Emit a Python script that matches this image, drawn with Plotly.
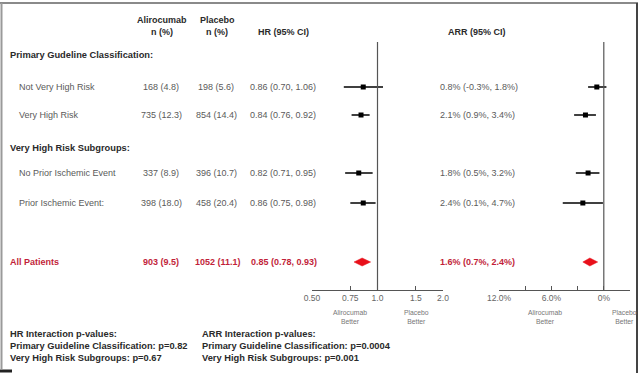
import plotly.graph_objects as go

# ---------------- data ----------------
row_labels = ["Not Very High Risk", "Very High Risk", "No Prior Ischemic Event", "Prior Ischemic Event:"]
aliro_text = ["168 (4.8)", "735 (12.3)", "337 (8.9)", "398 (18.0)"]
placebo_text = ["198 (5.6)", "854 (14.4)", "396 (10.7)", "458 (20.4)"]
hr_est = [0.86, 0.84, 0.82, 0.86]
hr_lo = [0.70, 0.76, 0.71, 0.75]
hr_hi = [1.06, 0.92, 0.95, 0.98]
arr_est = [0.8, 2.1, 1.8, 2.4]
arr_lo = [-0.3, 0.9, 0.5, 0.1]
arr_hi = [1.8, 3.4, 3.2, 4.7]

all_label = "All Patients"
all_aliro = "903 (9.5)"
all_placebo = "1052 (11.1)"
all_hr = [0.85, 0.78, 0.93]     # est, lo, hi
all_arr = [1.6, 0.7, 2.4]

hr_ticks = [0.5, 0.75, 1.0, 1.5, 2.0]
hr_ticktext = ["0.50", "0.75", "1.0", "1.5", "2.0"]
arr_ticks = [12, 9, 6, 3, 0, -3]
arr_ticktext = ["12.0%", "", "6.0%", "", "0%", ""]

section_labels = ["Primary Gudeline Classification:", "Very High Risk Subgroups:"]
footnote_hr = ["HR Interaction p-values:", "Primary Guideline Classification: p=0.82", "Very High Risk Subgroups: p=0.67"]
footnote_arr = ["ARR Interaction p-values:", "Primary Guideline Classification: p=0.0004", "Very High Risk Subgroups: p=0.001"]

# ---------------- layout helpers (pixel positions) ----------------
W, H = 640, 373
row_y = [87, 115, 173, 203]
all_y = 262
section_y = [55, 148]
FONT = "Liberation Sans, Arial, sans-serif"
GRAY = "#5a5a5a"
DARK = "#2a2a2a"
RED_TXT = "#c21f3a"
RED = "#e8101a"


def px(x):
    return x / W


def py(y):
    return 1 - y / H


annotations = []


def txt(x, y, s, size=9, color=GRAY, bold=False, anchor="left"):
    annotations.append(dict(
        x=px(x), y=py(y), xref="paper", yref="paper", text=(f"<b>{s}</b>" if bold else s),
        showarrow=False, xanchor=anchor, yanchor="middle",
        font=dict(family=FONT, size=size, color=color)))


# headers
txt(162, 20, "Alirocumab", bold=True, color=DARK, anchor="center")
txt(162, 32, "n (%)", bold=True, color=DARK, anchor="center")
txt(217, 20, "Placebo", bold=True, color=DARK, anchor="center")
txt(217, 32, "n (%)", bold=True, color=DARK, anchor="center")
txt(283, 32, "HR (95% CI)", bold=True, color=DARK, anchor="center")
txt(477, 32, "ARR (95% CI)", bold=True, color=DARK, anchor="center")

for s, y in zip(section_labels, section_y):
    txt(8, y, s, bold=True, color=DARK, size=9.3)

for i, y in enumerate(row_y):
    txt(17, y, row_labels[i])
    txt(161, y, aliro_text[i], anchor="center")
    txt(216, y, placebo_text[i], anchor="center")
    txt(248, y, f"{hr_est[i]:.2f} ({hr_lo[i]:.2f}, {hr_hi[i]:.2f})")
    txt(438, y, f"{arr_est[i]:.1f}% ({arr_lo[i]:.1f}%, {arr_hi[i]:.1f}%)")

txt(8, all_y, all_label, bold=True, color=RED_TXT)
txt(161, all_y, all_aliro, bold=True, color=RED_TXT, anchor="center")
txt(218, all_y, all_placebo, bold=True, color=RED_TXT, anchor="center")
txt(249, all_y, f"{all_hr[0]:.2f} ({all_hr[1]:.2f}, {all_hr[2]:.2f})", bold=True, color=RED_TXT)
txt(438, all_y, f"{all_arr[0]:.1f}% ({all_arr[1]:.1f}%, {all_arr[2]:.1f}%)", bold=True, color=RED_TXT)

# better labels
for x, s in [(350, "Alirocumab<br>Better"), (416, "Placebo<br>Better"),
             (545, "Alirocumab<br>Better"), (624, "Placebo<br>Better")]:
    txt(x, 317, s, size=6.8, color="#777", anchor="center")

# footnotes
for k, y in enumerate([334, 346, 358]):
    txt(8, y, footnote_hr[k], bold=True, color=DARK, size=9.3)
    txt(200, y, footnote_arr[k], bold=True, color=DARK, size=9.3)

# ---------------- traces ----------------
fig = go.Figure()


def segs(lo, hi, ys):
    xs, yy = [], []
    for a, b, y in zip(lo, hi, ys):
        xs += [a, b, None]
        yy += [y, y, None]
    return xs, yy


x, y = segs(hr_lo, hr_hi, row_y)
fig.add_trace(go.Scatter(x=x, y=y, mode="lines", line=dict(color="black", width=1.5),
                         xaxis="x", yaxis="y", hoverinfo="skip"))
fig.add_trace(go.Scatter(x=hr_est, y=row_y, mode="markers",
                         marker=dict(symbol="square", size=5, color="black"), xaxis="x", yaxis="y"))
x, y = segs(arr_lo, arr_hi, row_y)
fig.add_trace(go.Scatter(x=x, y=y, mode="lines", line=dict(color="black", width=1.5),
                         xaxis="x2", yaxis="y", hoverinfo="skip"))
fig.add_trace(go.Scatter(x=arr_est, y=row_y, mode="markers",
                         marker=dict(symbol="square", size=5, color="black"), xaxis="x2", yaxis="y"))

# diamonds
dh = 4
fig.add_trace(go.Scatter(x=[all_hr[1], all_hr[0], all_hr[2], all_hr[0], all_hr[1]],
                         y=[all_y, all_y - dh, all_y, all_y + dh, all_y],
                         fill="toself", fillcolor=RED, line=dict(color=RED, width=0.5),
                         mode="lines", xaxis="x", yaxis="y"))
fig.add_trace(go.Scatter(x=[all_arr[1], all_arr[0], all_arr[2], all_arr[0], all_arr[1]],
                         y=[all_y, all_y - dh, all_y, all_y + dh, all_y],
                         fill="toself", fillcolor=RED, line=dict(color=RED, width=0.5),
                         mode="lines", xaxis="x2", yaxis="y"))

# reference lines
shapes = [
    dict(type="line", xref="x", yref="y", x0=1.0, x1=1.0, y0=42, y1=290, line=dict(color="#555", width=1.2)),
    dict(type="line", xref="x2", yref="y", x0=0, x1=0, y0=42, y1=290, line=dict(color="#555", width=1.2)),
    # frame
    dict(type="line", xref="paper", yref="paper", x0=px(0), x1=px(638), y0=py(3), y1=py(3), line=dict(color="#8a8a8a", width=2)),
    dict(type="line", xref="paper", yref="paper", x0=px(1.5), x1=px(1.5), y0=py(3), y1=py(369), line=dict(color="#9a9a9a", width=2)),
    dict(type="line", xref="paper", yref="paper", x0=px(637), x1=px(637), y0=py(3), y1=py(373), line=dict(color="#444", width=2)),
    dict(type="line", xref="paper", yref="paper", x0=px(0), x1=px(12), y0=py(371), y1=py(371), line=dict(color="#222", width=3)),
]

tickfont = dict(family=FONT, size=8.5, color="#666")
fig.update_layout(
    template="none",
    width=W, height=H, margin=dict(l=0, r=0, t=0, b=0, pad=0, autoexpand=False),
    paper_bgcolor="white", plot_bgcolor="white", showlegend=False,
    font=dict(family=FONT),
    annotations=annotations, shapes=shapes,
    xaxis=dict(type="log", range=[-0.30103, 0.30103], domain=[px(312), px(443)], anchor="y",
               tickvals=hr_ticks, ticktext=hr_ticktext, ticks="inside", ticklen=4,
               tickcolor="#555", showline=True, linecolor="#555", linewidth=1.2, automargin=False,
               showgrid=False, zeroline=False, tickfont=tickfont, fixedrange=True),
    xaxis2=dict(range=[12, -3], domain=[px(499), px(630)], anchor="y",
                tickvals=arr_ticks, ticktext=arr_ticktext, ticks="inside", ticklen=4,
                tickcolor="#555", showline=True, linecolor="#555", linewidth=1.2, automargin=False,
                showgrid=False, zeroline=False, tickfont=tickfont, fixedrange=True),
    yaxis=dict(range=[290, 42], domain=[py(290), py(42)], visible=False, fixedrange=True, automargin=False),
)

fig.write_html("out.html", config={"displayModeBar": False},
               post_script="document.body.style.margin='0px';document.body.style.overflow='hidden';")
